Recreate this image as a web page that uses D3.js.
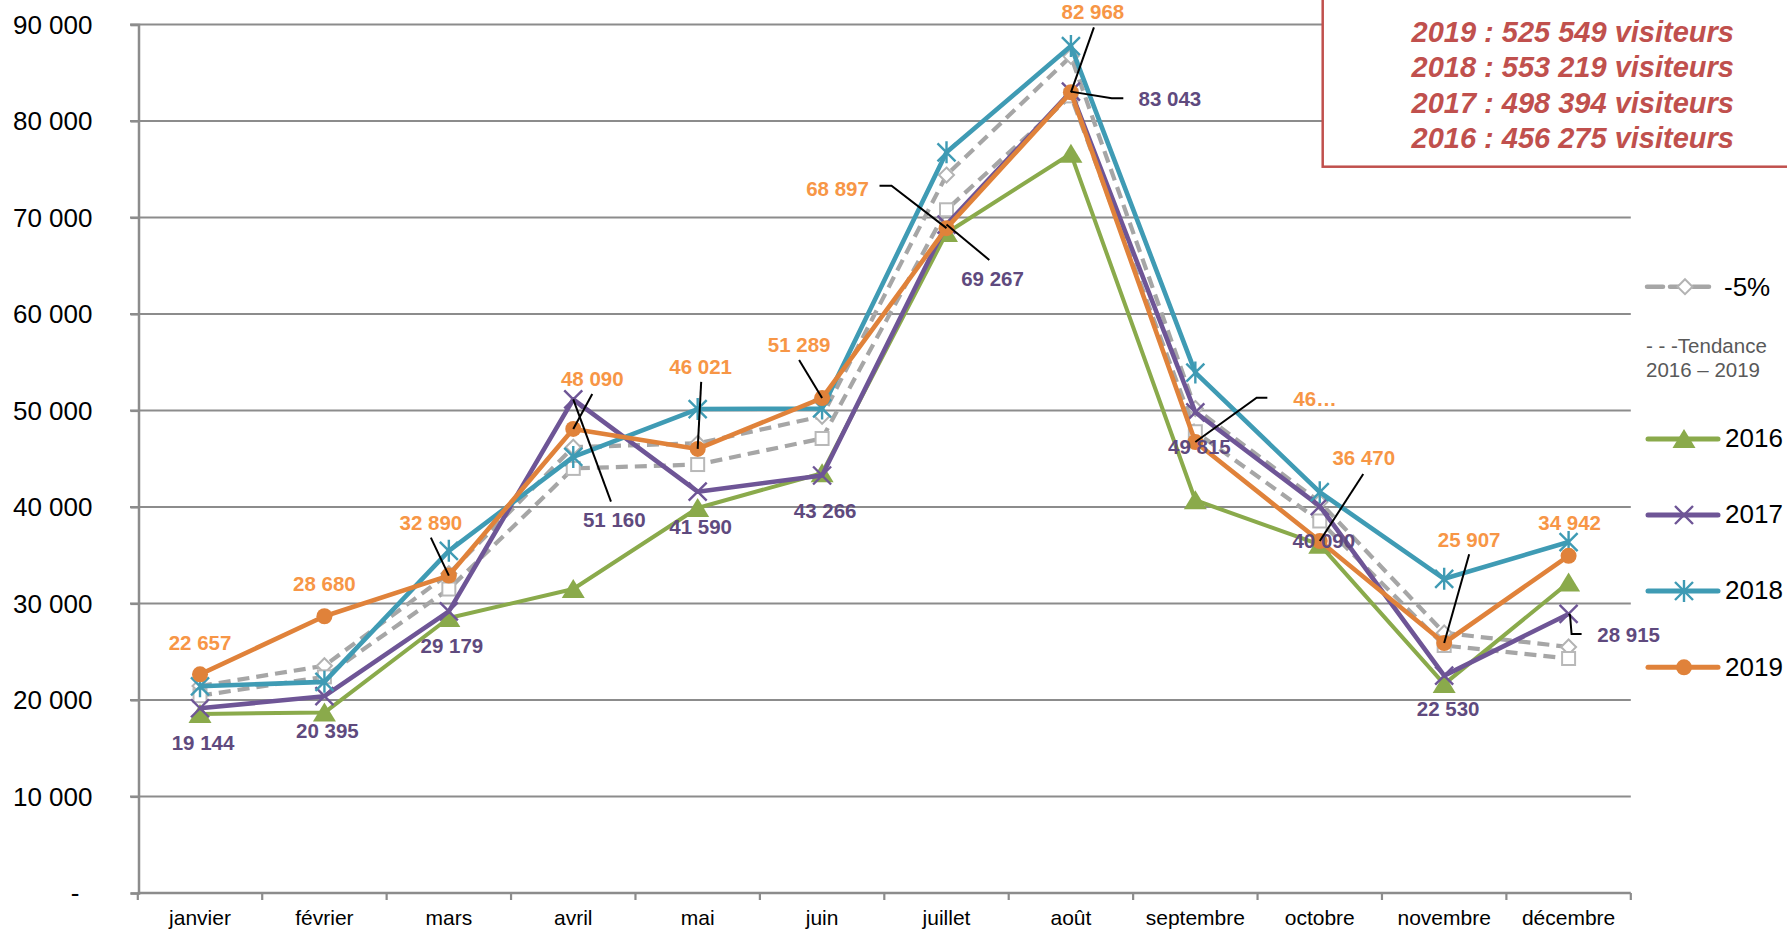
<!DOCTYPE html>
<html><head><meta charset="utf-8">
<script src="https://cdn.jsdelivr.net/npm/d3@7"></script>
<style>
html,body{margin:0;padding:0;background:#fff;}
svg{display:block;font-family:"Liberation Sans",Arial,sans-serif;}
</style></head>
<body>
<svg id="c" width="1787" height="929"></svg>
<script>
// ---------- DATA ----------
const months = ["janvier","février","mars","avril","mai","juin","juillet","août","septembre","octobre","novembre","décembre"];
const v2016 = [18560,18700,28500,31500,39900,43500,68400,76600,40700,36100,21650,32165];
const v2017 = [19144,20395,29179,51160,41590,43266,69267,83043,49815,40090,22530,28915];
const v2018 = [21420,21880,35460,45190,50150,50210,76750,87760,53930,41540,32560,36369];
const v2019 = [22657,28680,32890,48090,46021,51289,68897,82968,46738,36470,25907,34942];
const vMoins5 = [21450,23550,33100,46200,46600,49400,74400,86700,50200,40500,26950,25500];
const vTendance = [20450,22400,31500,44000,44400,47100,70800,82600,47800,38550,25650,24300];
const yTicks = [0,10000,20000,30000,40000,50000,60000,70000,80000,90000];
const totalYears = ["2019","2018","2017","2016"];
const totalValues = ["525 549","553 219","498 394","456 275"];
const legendNames = ["-5%","2016","2017","2018","2019"];
const tendanceText = ["- - -Tendance","2016 – 2019"];

// ---------- LAYOUT (label offsets relative to points) ----------
const lab2019 = [
 {dx:0,dy:-24},
 {dx:0,dy:-25},
 {dx:-18,dy:-46,lead:[[-18,-38]]},
 {dx:19,dy:-43,lead:[[19,-35]]},
 {dx:3,dy:-75,lead:[[3.5,-67]]},
 {dx:-23,dy:-46,lead:[[-23,-38]]},
 {dx:-109,dy:-32,lead:[[-67,-42.4],[-55,-42.4]]},
 {dx:22,dy:-73,lead:[[23,-65]]},
 {dx:98,dy:-36,anchor:"start",text:"46…",lead:[[72,-44.3],[61.3,-44.3]]},
 {dx:44,dy:-76,lead:[[43.5,-67]]},
 {dx:25,dy:-96,lead:[[25,-88.7]]},
 {dx:1,dy:-26}
];
const lab2017 = [
 {dx:3,dy:42},{dx:3,dy:42},{dx:3,dy:42},
 {dx:41,dy:128,lead:[[37.7,102.4]]},
 {dx:3,dy:42},{dx:3,dy:43},
 {dx:46,dy:61,lead:[[42.8,35.4]]},
 {dx:99,dy:14,lead:[[52.4,6.7],[40.8,6.7]]},
 {dx:4,dy:42},{dx:4,dy:42},{dx:4,dy:40},
 {dx:60,dy:28,lead:[[13,20],[3,20],[1.4,1]]}
];

const svg = d3.select("#c");
const x = d3.scaleBand().domain(months).range([137.8,1630.8]);
const y = d3.scaleLinear().domain([0,90000]).range([893,24.5]);
const cx = m => x(m) + x.bandwidth()/2;
const fmt = d3.formatLocale({decimal:",",thousands:" ",grouping:[3],currency:["","€"]}).format(",d");
const GRID = "#8c8c8c";

// gridlines
svg.append("g").selectAll("line").data(yTicks.filter(d=>d>0)).join("line")
  .attr("x1",130).attr("x2",1630.8).attr("y1",d=>y(d)).attr("y2",d=>y(d))
  .attr("stroke",GRID).attr("stroke-width",2.2);

// y axis
const yAxis = svg.append("g").attr("transform","translate(138.5,0)")
  .call(d3.axisLeft(y).tickValues(yTicks).tickSize(8).tickPadding(38)
    .tickFormat(d=> d===0 ? "-" : fmt(d)));
yAxis.select(".domain").attr("stroke",GRID).attr("stroke-width",2.5);
yAxis.selectAll(".tick line").attr("stroke",GRID).attr("stroke-width",2.2);
yAxis.selectAll(".tick text").attr("font-size",26).attr("fill","#000")
  .attr("font-family","Liberation Sans, Arial, sans-serif").attr("dy","0.34em");
yAxis.selectAll(".tick text").filter(d=>d===0).attr("x",-59);

// x axis
svg.append("line").attr("x1",137.8).attr("x2",1630.8).attr("y1",y(0)).attr("y2",y(0))
  .attr("stroke",GRID).attr("stroke-width",2.5);
const edges = months.map(m=>x(m)).concat([x.range()[1]]);
svg.append("g").selectAll("line").data(edges).join("line")
  .attr("x1",d=>d).attr("x2",d=>d).attr("y1",y(0)).attr("y2",y(0)+7)
  .attr("stroke",GRID).attr("stroke-width",2.2);
svg.append("g").selectAll("text").data(months).join("text")
  .attr("x",d=>cx(d)).attr("y",925).attr("text-anchor","middle")
  .attr("font-size",21).attr("fill","#000").text(d=>d);

// ---------- SERIES ----------
const series = [
 {name:"-5%", values:vMoins5, color:"#a6a6a6", width:4.2, dash:"12,7", marker:"diamond"},
 {name:"Tendance", values:vTendance, color:"#a6a6a6", width:4.2, dash:"12,7", marker:"square"},
 {name:"2016", values:v2016, color:"#8aaa4b", width:4, marker:"tri"},
 {name:"2017", values:v2017, color:"#6e5596", width:4.6, marker:"x"},
 {name:"2018", values:v2018, color:"#3f9bb4", width:4.6, marker:"star"},
 {name:"2019", values:v2019, color:"#e0823a", width:4.6, marker:"circle"}
];

function drawMarker(g, type, color, px, py){
  if(type==="tri"){
    g.append("path").attr("d",`M${px},${py-10}L${px+11.5},${py+9}L${px-11.5},${py+9}Z`).attr("fill",color);
  } else if(type==="x"){
    g.append("path").attr("d",`M${px-9},${py-9}L${px+9},${py+9}M${px+9},${py-9}L${px-9},${py+9}`)
      .attr("stroke",color).attr("stroke-width",2.4).attr("fill","none");
  } else if(type==="star"){
    g.append("path").attr("d",`M${px-9},${py-9}L${px+9},${py+9}M${px+9},${py-9}L${px-9},${py+9}M${px},${py-11}L${px},${py+11}`)
      .attr("stroke",color).attr("stroke-width",2.4).attr("fill","none");
  } else if(type==="circle"){
    g.append("circle").attr("cx",px).attr("cy",py).attr("r",8).attr("fill",color);
  } else if(type==="diamond"){
    g.append("path").attr("d",`M${px},${py-7.5}L${px+7.5},${py}L${px},${py+7.5}L${px-7.5},${py}Z`)
      .attr("fill","#fff").attr("stroke","#b3b3b3").attr("stroke-width",2);
  } else if(type==="square"){
    g.append("rect").attr("x",px-6.5).attr("y",py-6.5).attr("width",13).attr("height",13)
      .attr("fill","#fff").attr("stroke","#b8b8b8").attr("stroke-width",2);
  }
}

const line = d3.line().x((d,i)=>cx(months[i])).y(d=>y(d));
series.forEach(s=>{
  const g = svg.append("g");
  g.append("path").datum(s.values).attr("d",line).attr("fill","none")
    .attr("stroke",s.color).attr("stroke-width",s.width)
    .attr("stroke-dasharray",s.dash||null).attr("stroke-linejoin","round");
  s.values.forEach((v,i)=>drawMarker(g,s.marker,s.color,cx(months[i]),y(v)));
});

// ---------- DATA LABELS ----------
function drawLabels(values, layout, color){
  const g = svg.append("g");
  values.forEach((v,i)=>{
    const px = cx(months[i]), py = y(v), L = layout[i];
    if(L.lead){
      const pts = L.lead.map(p=>[px+p[0],py+p[1]]).concat([[px,py]]);
      g.append("path").attr("d",d3.line()(pts)).attr("fill","none")
        .attr("stroke","#000").attr("stroke-width",2);
    }
  });
  values.forEach((v,i)=>{
    const px = cx(months[i]), py = y(v), L = layout[i];
    g.append("text").attr("x",px+L.dx).attr("y",py+L.dy)
      .attr("text-anchor",L.anchor||"middle").attr("font-size",20.5).attr("font-weight","bold")
      .attr("fill",color).text(L.text||fmt(v));
  });
}
drawLabels(v2017, lab2017, "#5f4a7e");
drawLabels(v2019, lab2019, "#f79646");

// ---------- TOTALS BOX ----------
svg.append("rect").attr("x",1322.7).attr("y",-5).attr("width",480).attr("height",171.7)
  .attr("fill","#fff").attr("stroke","#c0504d").attr("stroke-width",2.5);
svg.append("g").selectAll("text").data(totalYears).join("text")
  .attr("x",1411.5).attr("y",(d,i)=>41.5+i*35.5)
  .attr("font-size",29).attr("font-weight","bold").attr("font-style","italic")
  .attr("fill","#c0504d").text((d,i)=>`${d} : ${totalValues[i]} visiteurs`);

// ---------- LEGEND ----------
const lg = svg.append("g");
// -5%
lg.append("line").attr("x1",1647).attr("x2",1712).attr("y1",286.7).attr("y2",286.7)
  .attr("stroke","#a6a6a6").attr("stroke-width",4.5).attr("stroke-dasharray","16,7").attr("stroke-linecap","round");
drawMarker(lg,"diamond","#a6a6a6",1685,286.7);
lg.append("text").attr("x",1724).attr("y",286.7).attr("dy","0.34em").attr("font-size",26).attr("fill","#000").text(legendNames[0]);
// tendance text
lg.append("g").selectAll("text").data(tendanceText).join("text")
  .attr("x",1646).attr("y",(d,i)=>353+i*23.7).attr("font-size",20.5).attr("fill","#595959").text(d=>d);
// year entries
const legYears = [
 {s:series[2], y:439},{s:series[3], y:515},{s:series[4], y:591},{s:series[5], y:667.3}
];
legYears.forEach((e,i)=>{
  lg.append("line").attr("x1",1648).attr("x2",1718).attr("y1",e.y).attr("y2",e.y)
    .attr("stroke",e.s.color).attr("stroke-width",5).attr("stroke-linecap","round");
  drawMarker(lg,e.s.marker,e.s.color,1684,e.y);
  lg.append("text").attr("x",1725).attr("y",e.y).attr("dy","0.32em").attr("font-size",26)
    .attr("fill","#000").text(legendNames[i+1]);
});
</script>
</body></html>
